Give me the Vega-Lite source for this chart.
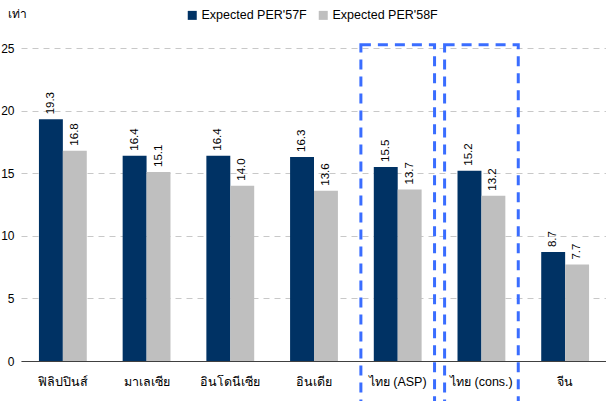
{
  "$schema": "https://vega.github.io/schema/vega-lite/v6.json",
  "autosize": "none",
  "width": 586,
  "height": 313,
  "padding": {"left": 21, "top": 48, "right": 0, "bottom": 40},
  "config": {
    "font": "Liberation Sans",
    "view": {"stroke": null},
    "axis": {"labelFont": "Liberation Sans", "labelColor": "#000000", "labelFontSize": 12}
  },
  "datasets": {
    "bars": [
      {"country": "ฟิลิปปินส์", "series": "Expected PER'57F", "per": 19.3},
      {"country": "ฟิลิปปินส์", "series": "Expected PER'58F", "per": 16.8},
      {"country": "มาเลเซีย", "series": "Expected PER'57F", "per": 16.4},
      {"country": "มาเลเซีย", "series": "Expected PER'58F", "per": 15.1},
      {"country": "อินโดนีเซีย", "series": "Expected PER'57F", "per": 16.4},
      {"country": "อินโดนีเซีย", "series": "Expected PER'58F", "per": 14.0},
      {"country": "อินเดีย", "series": "Expected PER'57F", "per": 16.3},
      {"country": "อินเดีย", "series": "Expected PER'58F", "per": 13.6},
      {"country": "ไทย (ASP)", "series": "Expected PER'57F", "per": 15.5},
      {"country": "ไทย (ASP)", "series": "Expected PER'58F", "per": 13.7},
      {"country": "ไทย (cons.)", "series": "Expected PER'57F", "per": 15.2},
      {"country": "ไทย (cons.)", "series": "Expected PER'58F", "per": 13.2},
      {"country": "จีน", "series": "Expected PER'57F", "per": 8.7},
      {"country": "จีน", "series": "Expected PER'58F", "per": 7.7}
    ],
    "boxes": [
      {"country": "ไทย (ASP)"},
      {"country": "ไทย (cons.)"}
    ]
  },
  "encoding": {
    "x": {
      "field": "country",
      "type": "nominal",
      "sort": null,
      "scale": {"domain": ["ฟิลิปปินส์", "มาเลเซีย", "อินโดนีเซีย", "อินเดีย", "ไทย (ASP)", "ไทย (cons.)", "จีน"], "paddingInner": 0, "paddingOuter": 0},
      "axis": {"title": null, "labelAngle": 0, "ticks": false, "domain": true, "domainColor": "#404040", "domainWidth": 1.2, "labelPadding": 14, "labelFontSize": 12.5}
    }
  },
  "layer": [
    {
      "data": {"name": "bars"},
      "mark": {"type": "bar"},
      "encoding": {
        "xOffset": {"field": "series", "type": "nominal", "scale": {"paddingInner": 0, "paddingOuter": 0.75}},
        "y": {
          "field": "per",
          "type": "quantitative",
          "scale": {"domain": [0, 25], "nice": false},
          "axis": {
            "title": "เท่า",
            "titleAngle": 0,
            "titleX": -14,
            "titleY": -28,
            "titleAlign": "left",
            "titleFontWeight": "normal",
            "titleFontSize": 12,
            "titleFont": "Liberation Sans",
            "values": [0, 5, 10, 15, 20, 25],
            "domain": false,
            "ticks": false,
            "labelPadding": 7,
            "grid": true,
            "gridDash": [6, 5],
            "gridColor": "#c8c8c8",
            "gridWidth": 1
          }
        },
        "color": {
          "field": "series",
          "type": "nominal",
          "scale": {"range": ["#003264", "#bfbfbf"]},
          "legend": {
            "title": null,
            "orient": "none",
            "legendX": 165,
            "legendY": -39,
            "direction": "horizontal",
            "symbolType": "square",
            "symbolSize": 81,
            "symbolStrokeWidth": 0,
            "labelFontSize": 12.5,
            "labelFont": "Liberation Sans",
            "columnPadding": 10,
            "labelOffset": 3
          }
        }
      }
    },
    {
      "data": {"name": "bars"},
      "mark": {"type": "text", "angle": 270, "align": "left", "baseline": "middle", "dx": 5, "fontSize": 11.5, "font": "Liberation Sans", "color": "#000000"},
      "encoding": {
        "xOffset": {"field": "series", "type": "nominal", "scale": {"paddingInner": 0, "paddingOuter": 0.75}},
        "y": {"field": "per", "type": "quantitative"},
        "text": {"field": "per", "type": "quantitative", "format": ".1f"}
      }
    },
    {
      "data": {"name": "boxes"},
      "mark": {"type": "bar", "width": {"band": 0.88}, "fill": null, "fillOpacity": 0, "stroke": "#3a6dff", "strokeWidth": 3, "strokeDash": [10, 7], "clip": false},
      "encoding": {
        "y": {"datum": 25.25, "type": "quantitative"},
        "y2": {"datum": -3.8}
      }
    }
  ]
}
